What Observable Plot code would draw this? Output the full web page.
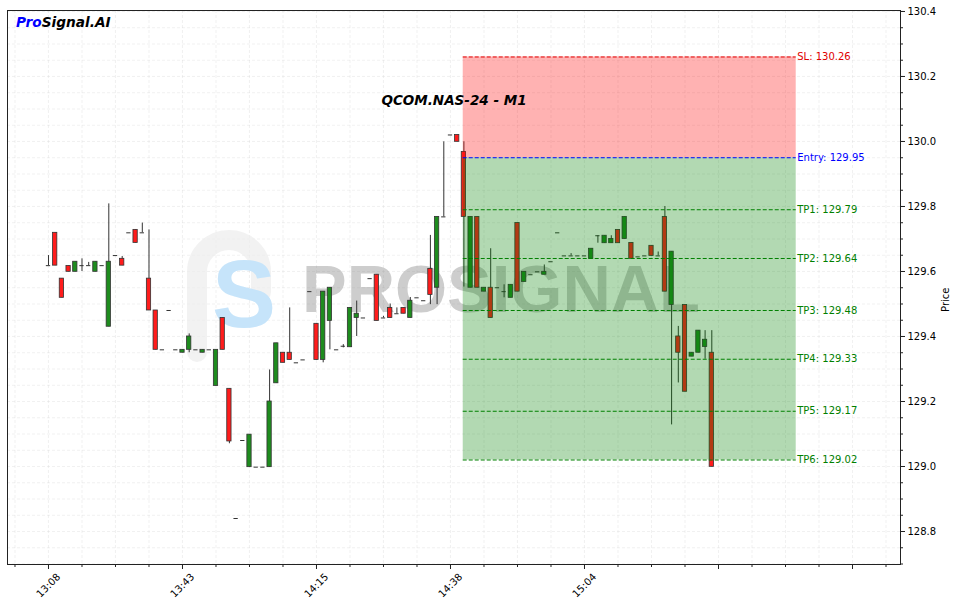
<!DOCTYPE html>
<html><head><meta charset="utf-8">
<script src="https://cdn.jsdelivr.net/npm/d3@7"></script>
<script src="https://cdn.jsdelivr.net/npm/@observablehq/plot@0.6"></script>
<style>body{margin:0;background:#fff;font-family:"DejaVu Sans",sans-serif;}</style>
</head><body><div id="chart"></div>
<script>
// ---- data ----
const opens = [129.618,129.719,129.578,129.617,129.599,129.618,129.618,129.599,129.618,129.430,
129.649,129.639,129.719,129.728,129.719,129.578,129.480,129.359,129.480,129.359,
129.350,129.359,129.359,129.350,129.359,129.248,129.457,129.239,128.840,129.080,
128.998,128.998,128.998,128.998,129.256,129.350,129.350,129.319,129.328,129.538,
129.439,129.328,129.448,129.359,129.370,129.367,129.457,129.457,129.578,129.590,
129.457,129.488,129.470,129.488,129.457,129.519,129.510,129.608,129.550,129.768,
130.020,130.020,129.968,129.550,129.768,129.538,129.550,129.550,129.538,129.519,
129.749,129.568,129.590,129.599,129.590,129.630,129.719,129.648,129.648,129.648,
129.648,129.639,129.710,129.687,129.687,129.728,129.700,129.688,129.645,129.648,
129.679,129.648,129.768,129.497,129.400,129.497,129.338,129.350,129.368,129.350];
const highs = [129.649,129.719,129.578,129.617,129.630,129.639,129.628,129.630,129.618,129.808,
129.649,129.646,129.719,129.728,129.749,129.728,129.480,129.359,129.480,129.359,
129.359,129.408,129.359,129.359,129.359,129.359,129.457,129.239,128.840,129.080,
129.098,128.998,128.998,129.297,129.379,129.350,129.488,129.319,129.328,129.538,
129.439,129.538,129.550,129.359,129.375,129.488,129.509,129.457,129.578,129.590,
129.462,129.500,129.488,129.488,129.520,129.519,129.510,129.711,129.768,129.999,
130.020,130.020,129.999,129.768,129.768,129.550,129.670,129.550,129.559,129.559,
129.749,129.599,129.590,129.599,129.620,129.630,129.719,129.648,129.655,129.648,
129.648,129.670,129.710,129.710,129.710,129.728,129.768,129.688,129.645,129.648,
129.679,129.660,129.800,129.661,129.431,129.497,129.350,129.418,129.418,129.418];
const lows = [129.618,129.618,129.519,129.599,129.599,129.600,129.618,129.599,129.618,129.430,
129.649,129.618,129.719,129.688,129.719,129.480,129.359,129.359,129.480,129.359,
129.350,129.350,129.359,129.350,129.359,129.248,129.359,129.070,128.840,129.080,
128.998,128.998,128.998,128.998,129.256,129.319,129.328,129.319,129.328,129.538,
129.328,129.319,129.359,129.359,129.365,129.367,129.400,129.457,129.578,129.448,
129.457,129.457,129.470,129.470,129.457,129.519,129.510,129.498,129.498,129.768,
130.020,129.999,129.552,129.550,129.550,129.538,129.457,129.550,129.519,129.519,
129.538,129.568,129.590,129.599,129.590,129.630,129.719,129.648,129.648,129.648,
129.648,129.639,129.687,129.687,129.687,129.687,129.700,129.639,129.645,129.648,
129.648,129.648,129.538,129.128,129.257,129.230,129.338,129.350,129.330,128.999];
const closes = [129.618,129.618,129.519,129.599,129.630,129.618,129.618,129.630,129.618,129.630,
129.649,129.618,129.719,129.688,129.719,129.480,129.359,129.359,129.480,129.359,
129.359,129.400,129.359,129.359,129.359,129.359,129.359,129.077,128.840,129.080,
129.098,128.998,128.998,129.200,129.379,129.319,129.328,129.319,129.328,129.538,
129.328,129.538,129.550,129.359,129.370,129.488,129.470,129.457,129.578,129.448,
129.457,129.457,129.470,129.470,129.510,129.519,129.510,129.528,129.768,129.768,
130.020,129.999,129.768,129.768,129.550,129.550,129.457,129.550,129.538,129.559,
129.538,129.599,129.590,129.599,129.599,129.630,129.719,129.648,129.648,129.648,
129.648,129.670,129.710,129.710,129.700,129.687,129.768,129.639,129.645,129.648,
129.648,129.648,129.538,129.661,129.350,129.230,129.350,129.418,129.390,128.999];

const tickIndex = [0, 20, 40, 60, 80, 100, 120];
const tickLabels = ["13:08", "13:43", "14:15", "14:38", "15:04", "", ""];
const priceTicks = [128.8, 129.0, 129.2, 129.4, 129.6, 129.8, 130.0, 130.2, 130.4];

const levelNames = ["SL", "Entry", "TP1", "TP2", "TP3", "TP4", "TP5", "TP6"];
const levelValues = [130.26, 129.95, 129.79, 129.64, 129.48, 129.33, 129.17, 129.02];
const signalStart = 61.9;   // candle index where the signal box starts
const signalEnd = 111.6;    // candle index where the signal box ends

const chartTitle = "QCOM.NAS-24 - M1";
const brandA = "Pro", brandB = "Signal.AI";
const watermark = "PROSIGNAL";

// ---- derived tables ----
const candles = opens.map((o, i) => ({i, o, h: highs[i], l: lows[i], c: closes[i]}));
const bodies = candles.filter(d => d.o !== d.c);
const dojis = candles.filter(d => d.o === d.c);
const levelColor = n => n === "SL" ? "#e00000" : n === "Entry" ? "#0000ff" : "#008000";
const levels = levelNames.map((n, k) => ({name: n, value: levelValues[k], color: levelColor(n)}));
const zones = [
  {y1: levelValues[1], y2: levelValues[0], fill: "#ff0000"},
  {y1: levelValues[levelValues.length - 1], y2: levelValues[1], fill: "#008000"}
];
const labelMap = new Map(tickIndex.map((t, k) => [t, tickLabels[k]]));
const minorX = d3.range(-5, 127, 5);
const minorY = d3.range(0, 35).map(k => +(128.7 + k * 0.05).toFixed(2)).filter(v => v <= 130.4);

const W = 956, H = 606;
const mL = 7, mR = 56, mT = 10, mB = 42;

function logoMark() {
  const g = d3.create("svg:g").attr("text-anchor", "start");
  g.append("path")
    .attr("d", "M197,352 V272 A32,32 0 0 1 261,272 V292")
    .attr("fill", "none").attr("stroke", "#ececec").attr("stroke-width", 20)
    .attr("stroke-linecap", "round").attr("opacity", 0.7);
  g.append("text").text("S")
    .attr("x", 244).attr("y", 327).attr("text-anchor", "middle")
    .attr("font-family", "Liberation Sans, Arial, sans-serif").attr("font-weight", "bold")
    .attr("font-size", 96).attr("fill", "#c6e4fa");
  g.append("text").text(watermark)
    .attr("x", 302).attr("y", 312).attr("text-anchor", "start")
    .attr("textLength", 398).attr("lengthAdjust", "spacingAndGlyphs")
    .attr("font-family", "Liberation Sans, Arial, sans-serif").attr("font-weight", "bold")
    .attr("font-size", 66).attr("fill", "#8a8a8a").attr("opacity", 0.42);
  return g.node();
}

function brandMark() {
  const t = d3.create("svg:text")
    .attr("x", 16).attr("y", 27).attr("text-anchor", "start")
    .attr("font-family", "DejaVu Sans, sans-serif").attr("font-weight", "bold")
    .attr("font-style", "italic").attr("font-size", 13.7);
  t.append("tspan").attr("fill", "#0000ff").text(brandA);
  t.append("tspan").attr("fill", "#000").text(brandB);
  return t.node();
}

const chart = Plot.plot({
  width: W, height: H,
  marginLeft: mL, marginRight: mR, marginTop: mT, marginBottom: mB,
  style: {fontFamily: "DejaVu Sans, sans-serif", fontSize: "10px", background: "#fff", color: "#000"},
  x: {type: "linear", domain: [-6.119, 127.164]},
  y: {type: "linear", domain: [128.6985, 130.403]},
  marks: [
    Plot.gridX(minorX, {stroke: "#ccc", strokeOpacity: 0.28, strokeDasharray: "3,2"}),
    Plot.gridY(minorY, {stroke: "#ccc", strokeOpacity: 0.28, strokeDasharray: "3,2"}),
    logoMark,
    Plot.ruleX(candles, {x: "i", y1: "l", y2: "h", stroke: "#333", strokeWidth: 1}),
    Plot.rect(bodies, {
      x1: d => d.i - 0.32, x2: d => d.i + 0.32,
      y1: d => Math.min(d.o, d.c), y2: d => Math.max(d.o, d.c),
      fill: d => d.c > d.o ? "#1e8c1e" : "#ff1c1c", stroke: "#333", strokeWidth: 0.8
    }),
    Plot.ruleY(dojis, {y: "o", x1: d => d.i - 0.32, x2: d => d.i + 0.32, stroke: "#333", strokeWidth: 1}),
    Plot.rect(zones, {x1: () => signalStart, x2: () => signalEnd, y1: "y1", y2: "y2", fill: "fill", fillOpacity: 0.3}),
    Plot.ruleY(levels, {y: "value", x1: () => signalStart, x2: () => signalEnd, stroke: "color", strokeWidth: 1, strokeDasharray: "4,2"}),
    Plot.text(levels, {x: () => signalEnd, y: "value", text: d => `${d.name}: ${d.value.toFixed(2)}`, fill: "color", textAnchor: "start", dx: 1, fontSize: 10}),
    Plot.text([chartTitle], {frameAnchor: "top", dy: 90, lineAnchor: "middle", fontWeight: "bold", fontStyle: "italic", fontSize: 13.5}),
    brandMark,
    Plot.frame({stroke: "#222", strokeWidth: 1}),
    Plot.axisX(minorX, {tickSize: 3, tickFormat: () => "", label: null, stroke: "#222"}),
    Plot.axisX(tickIndex, {tickSize: 5, tickFormat: () => "", label: null, stroke: "#222"}),
    Plot.text(tickIndex, {x: d => d, text: d => labelMap.get(d), frameAnchor: "bottom", dy: 21, rotate: -45, textAnchor: "middle", lineAnchor: "middle", fontSize: 10}),
    Plot.axisY(minorY, {anchor: "right", tickSize: 2, tickFormat: () => "", label: null, stroke: "#222"}),
    Plot.axisY(priceTicks, {anchor: "right", tickSize: 4, tickPadding: 3, tickFormat: d => d.toFixed(1), label: null, fontSize: 10, stroke: "#222"}),
    Plot.text(["Price"], {frameAnchor: "right", dx: 45, rotate: -90, fontSize: 10})
  ]
});
document.getElementById("chart").append(chart);
</script>
</body></html>
